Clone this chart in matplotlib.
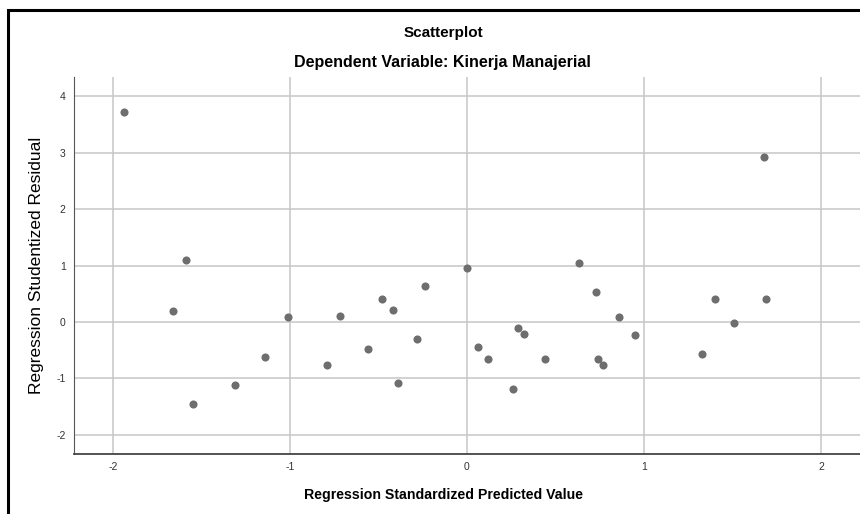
import matplotlib.pyplot as plt
import matplotlib.patches as patches

# Regression Standardized Predicted Value vs Studentized Residual
pred = [-1.94, -1.59, -1.66, -1.55, -1.31, -1.14, -1.01,
        -0.72, -0.79, -0.56, -0.48, -0.42, -0.39, -0.28, -0.24,
        0.00, 0.06, 0.12, 0.26, 0.29, 0.32, 0.44,
        0.63, 0.73, 0.74, 0.77, 0.86, 0.95,
        1.33, 1.40, 1.51, 1.69, 1.68]
resid = [3.72, 1.10, 0.20, -1.46, -1.12, -0.63, 0.09,
         0.11, -0.76, -0.48, 0.41, 0.21, -1.08, -0.31, 0.64,
         0.95, -0.45, -0.66, -1.18, -0.10, -0.21, -0.65,
         1.04, 0.53, -0.65, -0.76, 0.08, -0.24,
         -0.56, 0.41, -0.01, 0.41, 2.93]

xticks = [-2, -1, 0, 1, 2]
yticks = [-2, -1, 0, 1, 2, 3, 4]

plt.rcParams['font.family'] = ['Liberation Sans', 'DejaVu Sans']

fig = plt.figure(figsize=(8.6, 5.14), dpi=100)
ax = fig.add_axes([74/860, 60/514, 786/860, 377/514])

# outer frame
fig.patches.append(patches.Rectangle((8/860, -0.1), 1.2, 1 - 10/514 + 0.1,
                                     transform=fig.transFigure, fill=False,
                                     edgecolor='black', linewidth=2.2))

ax.scatter(pred, resid, s=34, color='#6e6e6e', zorder=3, linewidths=0)

ax.set_xlim(-2.22, 2.22)
ax.set_ylim(-2.34, 4.34)
ax.set_xticks(xticks)
ax.set_yticks(yticks)
ax.set_xticklabels([str(t) for t in xticks])
ax.set_yticklabels([str(t) for t in yticks])
ax.grid(True, color='#c6c6c6', linewidth=1.1)
ax.set_axisbelow(True)
ax.tick_params(length=0, labelsize=7.5, colors='#333333', pad=6)

for s in ['top', 'right']:
    ax.spines[s].set_visible(False)
ax.spines['left'].set_color('#555555')
ax.spines['bottom'].set_color('#444444')
ax.spines['bottom'].set_linewidth(1.3)

fig.text(443/860, 1 - 33/514, 'Scatterplot', ha='center', va='center',
         fontsize=11, fontweight='bold')
fig.text(442/860, 1 - 63/514, 'Dependent Variable: Kinerja Manajerial',
         ha='center', va='center', fontsize=11.5, fontweight='bold')
fig.text(444/860, 1 - 495/514, 'Regression Standardized Predicted Value',
         ha='center', va='center', fontsize=10.2, fontweight='bold')
fig.text(37/860, 1 - 265/514, 'Regression Studentized Residual',
         ha='center', va='center', rotation=90, fontsize=12.5)

plt.savefig('out.png', dpi=100)
